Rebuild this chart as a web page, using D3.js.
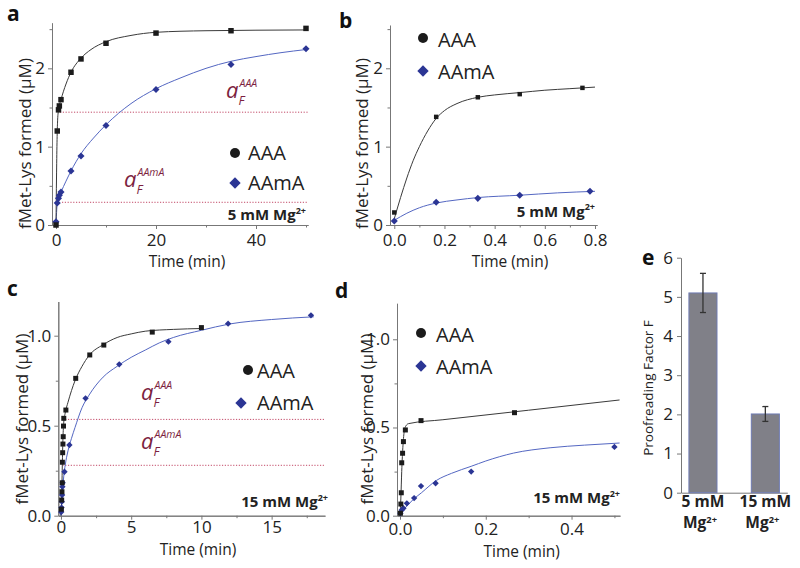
<!DOCTYPE html>
<html><head><meta charset="utf-8">
<script src="https://cdn.jsdelivr.net/npm/d3@7"></script>
<style>
body{margin:0;background:#fff;}
svg{font-family:"Open Sans",sans-serif;}
</style></head><body>
<svg id="chart" width="800" height="568"></svg>
<script>
// ---------- DATA ----------
// Panel a (5 mM Mg2+), time in min, fMet-Lys in µM
const aAAA_t = [0, 0.25, 0.5, 0.67, 1, 3, 5, 10, 20, 35, 50];
const aAAA_y = [0, 1.2, 1.47, 1.52, 1.6, 1.95, 2.12, 2.32, 2.45, 2.48, 2.51];
const aAAmA_t = [0, 0.25, 0.5, 0.67, 1, 3, 5, 10, 20, 35, 50];
const aAAmA_y = [0.04, 0.28, 0.34, 0.38, 0.42, 0.69, 0.88, 1.27, 1.73, 2.05, 2.25];
const aFitAAA = [[0,0],[0.1,0.6],[0.2,1.05],[0.3,1.3],[0.5,1.47],[1,1.6],[2,1.8],[3,1.95],[5,2.13],[7,2.24],[10,2.34],[15,2.42],[20,2.46],[30,2.48],[50,2.49]];
const aFitAAmA = [[0,0],[0.15,0.2],[0.3,0.3],[0.6,0.36],[1,0.42],[2,0.56],[3,0.69],[5,0.91],[7.5,1.11],[10,1.28],[15,1.55],[20,1.74],[25,1.88],[30,2.0],[35,2.09],[40,2.15],[45,2.2],[50,2.24]];
const aLevels = [1.44, 0.29];

// Panel b (5 mM Mg2+, early times)
const bAAA_t = [0, 0.167, 0.333, 0.5, 0.75];
const bAAA_y = [0.16, 1.38, 1.63, 1.67, 1.75];
const bAAmA_t = [0, 0.167, 0.333, 0.5, 0.78];
const bAAmA_y = [0.05, 0.29, 0.34, 0.38, 0.43];
const bFitAAA = [[0,0.08],[0.025,0.35],[0.05,0.6],[0.075,0.82],[0.1,1.0],[0.133,1.2],[0.167,1.36],[0.2,1.46],[0.25,1.55],[0.333,1.63],[0.4,1.66],[0.5,1.69],[0.6,1.72],[0.7,1.74],[0.8,1.76]];
const bFitAAmA = [[0,0.06],[0.05,0.15],[0.1,0.22],[0.167,0.28],[0.25,0.32],[0.333,0.35],[0.5,0.38],[0.65,0.41],[0.8,0.43]];

// Panel c (15 mM Mg2+)
const cAAA_t = [0.03,0.05,0.07,0.09,0.1,0.12,0.14,0.16,0.18,0.2,0.35,1.05,2.05,3.05,6.5,10];
const cAAA_y = [0.036,0.087,0.133,0.183,0.297,0.35,0.398,0.439,0.498,0.541,0.587,0.763,0.893,0.948,1.02,1.045];
const cAAmA_t = [0.02,0.04,0.06,0.08,0.1,0.12,0.25,0.6,1.75,4.15,7.65,11.9,17.8];
const cAAmA_y = [0.02,0.045,0.078,0.115,0.161,0.183,0.244,0.393,0.652,0.841,0.967,1.067,1.113];
const cFitAAA = [[0,0],[0.05,0.1],[0.1,0.3],[0.15,0.45],[0.2,0.52],[0.3,0.57],[0.5,0.63],[1,0.75],[1.5,0.83],[2,0.89],[3,0.95],[4,0.99],[5,1.01],[6,1.025],[8,1.035],[10,1.04]];
const cFitAAmA = [[0,0],[0.1,0.12],[0.2,0.22],[0.3,0.28],[0.5,0.36],[0.75,0.43],[1,0.49],[1.5,0.6],[2,0.67],[3,0.77],[4,0.83],[5,0.88],[6,0.92],[7,0.96],[8,0.99],[10,1.03],[12,1.065],[15,1.09],[18,1.105]];
const cLevels = [0.535, 0.28];

// Panel d (15 mM Mg2+, early times)
const dAAA_t = [0.001,0.002,0.003,0.004,0.006,0.008,0.0125,0.049,0.267];
const dAAA_y = [0.014,0.066,0.13,0.30,0.354,0.42,0.486,0.539,0.584];
const dAAmA_t = [0.001,0.004,0.008,0.016,0.033,0.049,0.083,0.166,0.5];
const dAAmA_y = [0.014,0.032,0.042,0.07,0.10,0.168,0.184,0.25,0.39];
const dFitAAA = [[0,0],[0.002,0.1],[0.004,0.25],[0.007,0.4],[0.01,0.48],[0.014,0.51],[0.02,0.522],[0.1,0.544],[0.3,0.598],[0.512,0.656]];
const dFitAAmA = [[0,0.02],[0.01,0.04],[0.03,0.09],[0.05,0.13],[0.085,0.2],[0.12,0.24],[0.166,0.28],[0.2,0.31],[0.265,0.355],[0.35,0.385],[0.43,0.4],[0.512,0.412]];

// Panel e
const eCategories = ["5 mM", "15 mM"];
const eValues = [5.1, 2.01];
const eErrors = [0.5, 0.19];

// Tick labels
const aXTicks = [0, 20, 40], aXMinor = [10, 30, 50], aYTicks = [0, 1, 2], aYMinor = [0.5, 1.5, 2.5];
const bXTicks = [0, 0.2, 0.4, 0.6, 0.8], bXMinor = [0.1, 0.3, 0.5, 0.7], bYTicks = [0, 1, 2], bYMinor = [0.5, 1.5, 2.5];
const cXTicks = [0, 5, 10, 15], cXMinor = [2.5, 7.5, 12.5, 17.5], cYTicks = [0, 0.5, 1.0], cYMinor = [0.25, 0.75];
const dXTicks = [0, 0.2, 0.4], dXMinor = [0.1, 0.3, 0.5], dYTicks = [0, 0.5, 1.0], dYMinor = [0.25, 0.75];
const eYTicks = [0, 1, 2, 3, 4, 5, 6];

// ---------- DRAWING ----------
const svg = d3.select("#chart");
const BLACK = "#1b1b1b", BLINE = "#3a3a3a", BLUE = "#2b3594", BLUELINE = "#5467c2";
const RED = "#7d1f3f", REDLINE = "#c24a68", AXIS = "#777", TXT = "#222";

function styleAxis(g){
  g.select(".domain").attr("stroke", AXIS).attr("stroke-width", 1);
  g.selectAll(".tick line").attr("stroke", AXIS);
  g.selectAll(".tick text").attr("fill", TXT).style("font-family","'Open Sans',sans-serif");
}

function mg(sel, x, y, label, size, anchor){
  const t = sel.append("text").attr("x", x).attr("y", y).attr("text-anchor", anchor)
    .attr("font-weight", "bold").attr("font-size", size).attr("fill", "#222");
  t.append("tspan").text(label + " Mg");
  t.append("tspan").attr("font-size", size*0.6).attr("dy", -size*0.42).text("2+");
}

function aF(x, y, sup){
  const t = svg.append("text").attr("x", x).attr("y", y).attr("fill", RED).attr("font-style","italic");
  t.append("tspan").attr("font-size", 22).text("a");
  t.append("tspan").attr("x", x+13.5).attr("dy", -11).attr("font-size", 10.5).text(sup);
  t.append("tspan").attr("x", x+12.5).attr("dy", 18).attr("font-size", 12.5).text("F");
}

function panel(p){
  const x = d3.scaleLinear().domain(p.xDomain).range(p.xRange);
  const y = d3.scaleLinear().domain(p.yDomain).range(p.yRange);
  const g = svg.append("g");
  const y0 = p.yRange[0], x0 = p.xRange[0];
  // minor ticks
  g.append("g").attr("transform", `translate(0,${y0})`)
    .call(d3.axisBottom(x).tickValues(p.xMinor).tickFormat("").tickSize(2.5).tickSizeOuter(0)).call(styleAxis);
  g.append("g").attr("transform", `translate(${x0},0)`)
    .call(d3.axisLeft(y).tickValues(p.yMinor).tickFormat("").tickSize(2.5).tickSizeOuter(0)).call(styleAxis);
  // major
  g.append("g").attr("transform", `translate(0,${y0})`)
    .call(d3.axisBottom(x).tickValues(p.xTicks).tickFormat(d3.format(p.xFmt)).tickSize(4).tickSizeOuter(0).tickPadding(p.xPad))
    .call(styleAxis).call(s => s.selectAll("text").attr("font-size", 17));
  g.append("g").attr("transform", `translate(${x0},0)`)
    .call(d3.axisLeft(y).tickValues(p.yTicks).tickFormat(d3.format(p.yFmt)).tickSize(4).tickSizeOuter(0).tickPadding(3))
    .call(styleAxis).call(s => s.selectAll("text").attr("font-size", 17));
  // dotted levels
  if (p.levels) {
    g.selectAll(".lvl").data(p.levels).enter().append("line")
      .attr("x1", (d,i) => x(p.levelStart[i])).attr("x2", x(p.xDomain[1]))
      .attr("y1", d => y(d)).attr("y2", d => y(d))
      .attr("stroke", REDLINE).attr("stroke-width", 1).attr("stroke-dasharray", "1.2,1.6");
  }
  // fit lines
  const line = d3.line().x(d => x(d[0])).y(d => y(d[1])).curve(d3.curveMonotoneX);
  g.append("path").attr("d", line(p.fitB)).attr("fill","none").attr("stroke", BLUELINE).attr("stroke-width", 1);
  g.append("path").attr("d", line(p.fitA)).attr("fill","none").attr("stroke", BLINE).attr("stroke-width", 1);
  // points
  const blue = p.tB.map((t,i) => [t, p.yB[i]]);
  const black = p.tA.map((t,i) => [t, p.yA[i]]);
  g.selectAll(".pb").data(blue).enter().append("path")
    .attr("d", d3.symbol(d3.symbolSquare, p.dSize*p.dSize))
    .attr("transform", d => `translate(${x(d[0])},${y(d[1])}) rotate(45)`).attr("fill", BLUE);
  g.selectAll(".pa").data(black).enter().append("path")
    .attr("d", d3.symbol(p.aSym, p.aArea))
    .attr("transform", d => `translate(${x(d[0])},${y(d[1])})`).attr("fill", BLACK);
  // legend
  const L = p.legend;
  g.append("circle").attr("cx", L.cx1).attr("cy", L.cy1).attr("r", 5).attr("fill", BLACK);
  g.append("path").attr("d", d3.symbol(d3.symbolSquare, 64)).attr("transform", `translate(${L.cx2},${L.cy2}) rotate(45)`).attr("fill", BLUE);
  g.append("text").attr("x", L.tx).attr("y", L.ty1).attr("font-size", 20).attr("fill", TXT).text("AAA");
  g.append("text").attr("x", L.tx).attr("y", L.ty2).attr("font-size", 20).attr("fill", TXT).text("AAmA");
  // Mg label
  mg(g, p.mg[0], p.mg[1], p.mgLabel, 15, "end");
  // axis titles
  g.append("text").attr("x", p.xt[0]).attr("y", p.xt[1]).attr("text-anchor","middle").attr("font-size", 15.5).attr("fill", TXT).text("Time (min)");
  g.append("text").attr("transform", `translate(${p.yt[0]},${p.yt[1]}) rotate(-90)`).attr("dy","0.35em")
    .attr("text-anchor","middle").attr("font-size", 17).attr("fill", TXT).text("fMet-Lys formed (\u03bcM)");
  // panel letter
  g.append("text").attr("x", p.letter[1]).attr("y", p.letter[2]).attr("font-size", 21).attr("font-weight","bold").attr("fill","#111").text(p.letter[0]);
}

panel({xDomain:[-0.8, 50.4], xRange:[52, 308], yDomain:[0, 2.58], yRange:[225, 22.9],
  xTicks:aXTicks, xMinor:aXMinor, yTicks:aYTicks, yMinor:aYMinor, xFmt:"d", yFmt:"d", xPad:5,
  tA:aAAA_t, yA:aAAA_y, tB:aAAmA_t, yB:aAAmA_y, fitA:aFitAAA, fitB:aFitAAmA,
  levels:aLevels, levelStart:[0.8, 1.2], aSym:d3.symbolSquare, aArea:30, dSize:5,
  legend:{cx1:235, cy1:153, cx2:235, cy2:183, tx:248, ty1:160, ty2:190},
  mg:[306, 220], mgLabel:"5 mM", xt:[187, 267], yt:[25, 143.5], letter:["a", 7, 21]});

panel({xDomain:[-0.0171, 0.808], xRange:[390, 597], yDomain:[0, 2.55], yRange:[225, 25.2],
  xTicks:bXTicks, xMinor:bXMinor, yTicks:bYTicks, yMinor:bYMinor, xFmt:".1f", yFmt:"d", xPad:5,
  tA:bAAA_t, yA:bAAA_y, tB:bAAmA_t, yB:bAAmA_y, fitA:bFitAAA, fitB:bFitAAmA,
  levels:null, aSym:d3.symbolSquare, aArea:20, dSize:5,
  legend:{cx1:423, cy1:38, cx2:423, cy2:71, tx:438, ty1:47, ty2:79},
  mg:[595, 216.5], mgLabel:"5 mM", xt:[510, 267], yt:[362.5, 143.5], letter:["b", 339, 28]});

panel({xDomain:[-0.19, 18.8], xRange:[58.3, 325], yDomain:[0, 1.19], yRange:[515.7, 301.5],
  xTicks:cXTicks, xMinor:cXMinor, yTicks:cYTicks, yMinor:cYMinor, xFmt:"d", yFmt:".1f", xPad:1,
  tA:cAAA_t, yA:cAAA_y, tB:cAAmA_t, yB:cAAmA_y, fitA:cFitAAA, fitB:cFitAAmA,
  levels:cLevels, levelStart:[0.1, 0.1], aSym:d3.symbolSquare, aArea:25, dSize:4.5,
  legend:{cx1:248, cy1:370, cx2:241, cy2:403, tx:257, ty1:378, ty2:410},
  mg:[328, 507], mgLabel:"15 mM", xt:[198, 554.5], yt:[21.7, 419], letter:["c", 7, 296]});

panel({xDomain:[-0.007, 0.513], xRange:[397, 620], yDomain:[0, 1.204], yRange:[515.7, 303.3],
  xTicks:dXTicks, xMinor:dXMinor, yTicks:dYTicks, yMinor:dYMinor, xFmt:".1f", yFmt:".1f", xPad:3,
  tA:dAAA_t, yA:dAAA_y, tB:dAAmA_t, yB:dAAmA_y, fitA:dFitAAA, fitB:dFitAAmA,
  levels:null, aSym:d3.symbolSquare, aArea:25, dSize:4.5,
  legend:{cx1:421, cy1:333, cx2:421, cy2:366, tx:436, ty1:342, ty2:374},
  mg:[620, 503], mgLabel:"15 mM", xt:[521.7, 556.5], yt:[366.7, 419], letter:["d", 335, 298]});

// a_F labels
aF(226, 98, "AAA");
aF(124, 187, "AAmA");
aF(141, 400, "AAA");
aF(141, 448.5, "AAmA");

// ---------- Panel e ----------
(function(){
  const x = d3.scaleBand().domain(eCategories).range([681, 787.3]).paddingInner(0.55).paddingOuter(0.127);
  const y = d3.scaleLinear().domain([0, 6]).range([492.7, 257.7]);
  const g = svg.append("g");
  g.append("g").attr("transform","translate(0,492.7)")
    .call(d3.axisBottom(x).tickSize(0).tickFormat("").tickSizeOuter(0)).call(styleAxis);
  g.append("g").attr("transform","translate(681,0)")
    .call(d3.axisLeft(y).tickValues(eYTicks).tickFormat(d3.format("d")).tickSize(4).tickSizeOuter(0).tickPadding(4))
    .call(styleAxis).call(s => s.selectAll("text").attr("font-size", 17));
  g.selectAll(".bar").data(eValues).enter().append("rect")
    .attr("x", (d,i) => x(eCategories[i])).attr("width", x.bandwidth())
    .attr("y", d => y(d)).attr("height", d => y(0) - y(d))
    .attr("fill", "#808088").attr("stroke", "#6f7bb3").attr("stroke-width", 1);
  eValues.forEach((v,i) => {
    const cx = x(eCategories[i]) + x.bandwidth()/2;
    const eb = g.append("g").attr("stroke", "#333").attr("stroke-width", 1.3);
    eb.append("line").attr("x1", cx).attr("x2", cx).attr("y1", y(v + eErrors[i])).attr("y2", y(v - eErrors[i]));
    eb.append("line").attr("x1", cx-3).attr("x2", cx+3).attr("y1", y(v + eErrors[i])).attr("y2", y(v + eErrors[i]));
    eb.append("line").attr("x1", cx-3).attr("x2", cx+3).attr("y1", y(v - eErrors[i])).attr("y2", y(v - eErrors[i]));
    g.append("text").attr("x", cx).attr("y", 507).attr("text-anchor","middle").attr("font-size", 15.5)
      .attr("font-weight","bold").attr("fill","#222").text(eCategories[i]);
    const t = g.append("text").attr("x", cx - 3).attr("y", 528).attr("text-anchor","middle").attr("font-size", 15.5)
      .attr("font-weight","bold").attr("fill","#222");
    t.append("tspan").text("Mg");
    t.append("tspan").attr("font-size", 9.3).attr("dy", -5.5).text("2+");
  });
  g.append("text").attr("transform","translate(648,388) rotate(-90)").attr("dy","0.35em").attr("text-anchor","middle")
    .attr("font-size", 13.5).attr("fill", TXT).text("Proofreading Factor F");
  g.append("text").attr("x", 642).attr("y", 265).attr("font-size", 21).attr("font-weight","bold").attr("fill","#111").text("e");
})();
</script>
</body></html>
